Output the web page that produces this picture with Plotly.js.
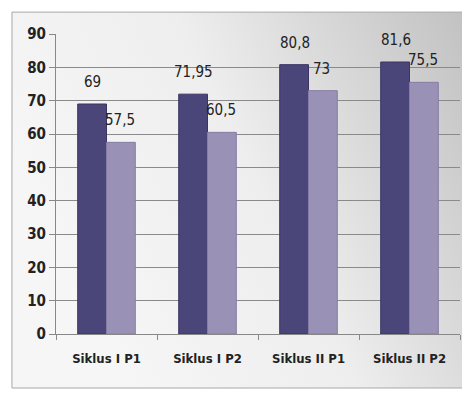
<!DOCTYPE html>
<html>
<head>
<meta charset="utf-8">
<script src="https://cdn.plot.ly/plotly-3.0.1.min.js"></script>
<style>html,body{margin:0;padding:0;background:#fff;}#chart{width:462px;height:395px;}</style>
</head>
<body>
<div id="chart"></div>
<script>
const categories = ["Siklus I P1", "Siklus I P2", "Siklus II P1", "Siklus II P2"];
const seriesA = [69, 71.95, 80.8, 81.6];
const seriesB = [57.5, 60.5, 73, 75.5];
const labelsA = ["69", "71,95", "80,8", "81,6"];
const labelsB = ["57,5", "60,5", "73", "75,5"];
const yTicks = [0, 10, 20, 30, 40, 50, 60, 70, 80, 90];

const grad = 'data:image/svg+xml;base64,' + btoa(
  '<svg xmlns="http://www.w3.org/2000/svg" width="100" height="100" preserveAspectRatio="none">' +
  '<defs><linearGradient id="g" x1="0" y1="0.4" x2="1" y2="0">' +
  '<stop offset="0" stop-color="#f6f6f6"/><stop offset="0.45" stop-color="#eeeeee"/>' +
  '<stop offset="0.72" stop-color="#d8d8d8"/><stop offset="1" stop-color="#c2c2c2"/></linearGradient></defs>' +
  '<rect width="100" height="100" fill="url(#g)"/></svg>');

const traces = [
  {type: 'bar', x: categories, y: seriesA, marker: {color: '#4b4679', line: {color: '#3a3563', width: 1}}, hoverinfo: 'none'},
  {type: 'bar', x: categories, y: seriesB, marker: {color: '#9a92b6', line: {color: '#857ca3', width: 1}}, hoverinfo: 'none'}
];

const annotations = [];
categories.forEach((c, i) => {
  annotations.push({x: c, y: seriesA[i], text: labelsA[i], xref: 'x', yref: 'y', showarrow: false,
    xshift: -14, yshift: 22, font: {family: 'DejaVu Sans Condensed', size: 15, color: '#222'}});
  annotations.push({x: c, y: seriesB[i], text: labelsB[i], xref: 'x', yref: 'y', showarrow: false,
    xshift: 13, yshift: 22, font: {family: 'DejaVu Sans Condensed', size: 15, color: '#222'}});
});

const layout = {
  width: 462, height: 395,
  margin: {l: 56, r: 2, t: 34, b: 61},
  paper_bgcolor: '#ffffff',
  plot_bgcolor: 'rgba(0,0,0,0)',
  showlegend: false,
  barmode: 'group',
  bargap: 0.43,
  bargroupgap: 0,
  font: {family: 'DejaVu Sans Condensed', color: '#222'},
  xaxis: {
    type: 'category', tickson: 'boundaries', ticks: 'outside', ticklen: 5, tickcolor: '#888',
    showline: true, linecolor: '#888', linewidth: 1, showgrid: false, ticklabelstandoff: 12,
    tickfont: {family: 'DejaVu Sans Condensed', size: 13, weight: 'bold', color: '#222'}
  },
  yaxis: {
    range: [0, 90], tickvals: yTicks, ticks: 'outside', ticklen: 6, tickcolor: '#888',
    showline: true, linecolor: '#888', gridcolor: '#8a8a8a', gridwidth: 1, zeroline: false,
    tickfont: {family: 'DejaVu Sans Condensed', size: 15, weight: 'bold', color: '#222'}
  },
  annotations: annotations,
  images: [{source: grad, xref: 'paper', yref: 'paper', x: -0.109, y: 1.073, sizex: 1.114, sizey: 1.253,
    sizing: 'stretch', xanchor: 'left', yanchor: 'top', layer: 'below'}],
  shapes: [{type: 'rect', xref: 'paper', yref: 'paper', x0: -0.109, x1: 1.01, y0: -0.18, y1: 1.073,
    line: {color: '#a8a8a8', width: 1}, fillcolor: 'rgba(0,0,0,0)', layer: 'below'}]
};

Plotly.newPlot('chart', traces, layout, {displayModeBar: false, staticPlot: true});
</script>
</body>
</html>
